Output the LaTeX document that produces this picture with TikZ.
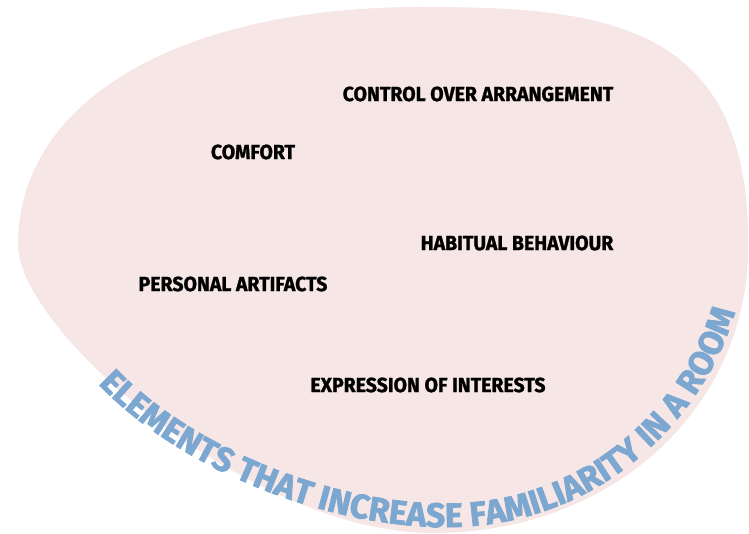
\documentclass[tikz,border=0pt]{standalone}
\usepackage{fontspec}
\setmainfont{Fira Sans}
\newfontfamily\factorfont{Fira Sans}[BoldFeatures={FakeBold=1.2, FakeStretch=0.95}]
\newfontfamily\titlefont{Fira Sans}[BoldFeatures={FakeBold=2}]
\usetikzlibrary{decorations.text}
\definecolor{blobpink}{RGB}{246,230,230}
\definecolor{titleblue}{RGB}{124,167,208}
\tikzset{
  factor/.style={font=\factorfont\bfseries\fontsize{20.5}{20.5}\selectfont, text=black, inner sep=0pt},
}
\begin{document}
\begin{tikzpicture}[x=1pt, y=-1pt]
  \useasboundingbox (0,0) rectangle (749,534);
  % the room
  \fill[blobpink] (18,245) .. controls (18,330) and (250,533) .. (433,533)
                           .. controls (620,533) and (750,400) .. (748,245)
                           .. controls (750,20) and (600,7) .. (420,7)
                           .. controls (180,7) and (18,100) .. cycle;

  \node[factor] (control)   at (478,94)  {CONTROL OVER ARRANGEMENT};
  \node[factor] (comfort)   at (253,152) {COMFORT};
  \node[factor] (habit)     at (517,243) {HABITUAL BEHAVIOUR};
  \node[factor] (artifacts) at (233,284) {PERSONAL ARTIFACTS};
  \node[factor] (interests) at (428,385) {EXPRESSION OF INTERESTS};

  % title bent round the rim
  \path[decorate, decoration={text along path, text align=center,
      text={|\titlefont\bfseries\fontsize{34}{34}\selectfont\color{titleblue}|ELEMENTS THAT INCREASE FAMILIARITY IN A ROOM}}]
    (86,370) .. controls (160,460) and (320,530) .. (455,527)
             .. controls (600,523) and (710,420) .. (740,294);
\end{tikzpicture}
\end{document}
